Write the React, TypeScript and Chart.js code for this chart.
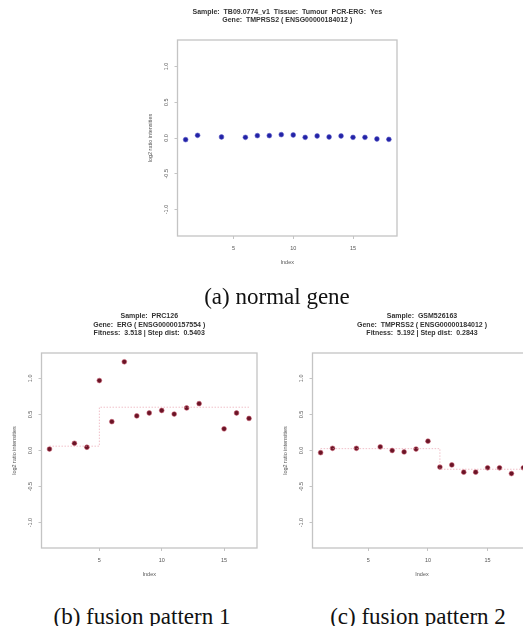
import React, { useEffect, useRef } from "react";
import { Chart, registerables } from "chart.js";

Chart.register(...registerables);

// ---------- data ----------
const X_TICKS = [5, 10, 15];
const Y_TICKS = [-1, -0.5, 0, 0.5, 1];
const Y_TICK_LABELS = ["-1.0", "-0.5", "0.0", "0.5", "1.0"];

const A_TITLE = ["Sample:  TB09.0774_v1  Tissue:  Tumour  PCR-ERG:  Yes", "Gene:  TMPRSS2 ( ENSG00000184012 )"];
const A_INDEX = [1, 2, 4, 6, 7, 8, 9, 10, 11, 12, 13, 14, 15, 16, 17, 18];
const A_VALUES = [-0.023, 0.037, 0.014, 0.009, 0.033, 0.033, 0.047, 0.042, 0.009, 0.028, 0.014, 0.028, 0.009, 0.009, -0.014, -0.019];

const B_TITLE = ["Sample:  PRC126", "Gene:  ERG ( ENSG00000157554 )", "Fitness:  3.518 | Step dist:  0.5403"];
const B_INDEX = [1, 3, 4, 5, 6, 7, 8, 9, 10, 11, 12, 13, 15, 16, 17];
const B_VALUES = [0.02, 0.1, 0.045, 0.97, 0.4, 1.23, 0.48, 0.52, 0.555, 0.505, 0.59, 0.65, 0.3, 0.52, 0.445];
const B_STEP_X = [1, 5, 5, 17];
const B_STEP_Y = [0.06, 0.06, 0.6, 0.6];

const C_TITLE = ["Sample:  GSM526163", "Gene:  TMPRSS2 ( ENSG00000184012 )", "Fitness:  5.192 | Step dist:  0.2843"];
const C_INDEX = [1, 2, 4, 6, 7, 8, 9, 10, 11, 12, 13, 14, 15, 16, 17, 18];
const C_VALUES = [-0.03, 0.03, 0.03, 0.05, 0.0, -0.02, 0.02, 0.13, -0.23, -0.2, -0.3, -0.3, -0.24, -0.24, -0.32, -0.24];
const C_STEP_X = [1, 11, 11, 18];
const C_STEP_Y = [0.026, 0.026, -0.26, -0.26];

const X_TITLE = "Index";
const Y_TITLE = "log2 ratio intensities";

// ---------- styles ----------
const BOX = "#c4c4c4";
const TEXT = "#555555";
const TITLE_COL = "#333333";
const SANS = '"Liberation Sans", Arial, sans-serif';

const rPlot = {
  id: "rPlot",
  afterDraw(chart: any, _args: any, opts: any) {
    const { ctx, chartArea: a, scales } = chart;
    const y = scales.y;
    ctx.save();
    ctx.strokeStyle = BOX;
    ctx.lineWidth = 1.3;
    ctx.strokeRect(a.left, a.top, a.right - a.left, a.bottom - a.top);

    ctx.fillStyle = TEXT;
    ctx.font = `5.5px ${SANS}`;
    ctx.textAlign = "center";
    ctx.textBaseline = "middle";
    Y_TICKS.forEach((v, i) => {
      const py = y.getPixelForValue(v);
      ctx.save();
      ctx.translate(a.left - 10.8, py);
      ctx.rotate(-Math.PI / 2);
      ctx.fillText(Y_TICK_LABELS[i], 0, 0);
      ctx.restore();
    });
    ctx.save();
    ctx.translate(a.left - 26.7, (a.top + a.bottom) / 2);
    ctx.rotate(-Math.PI / 2);
    ctx.fillText(Y_TITLE, 0, 0);
    ctx.restore();
    ctx.fillText(X_TITLE, (a.left + a.right) / 2, a.bottom + 26.2);

    ctx.fillStyle = TITLE_COL;
    ctx.font = `bold 7px ${SANS}`;
    const lines: string[] = opts.title;
    const cx = opts.titleX ?? (a.left + a.right) / 2;
    lines.forEach((t, i) => {
      const yy = a.top - 20 - (lines.length - 1 - i) * 8.6 + 0.5;
      ctx.fillText(t, cx, yy);
    });
    ctx.restore();
  },
};

type PanelProps = {
  L: number; T: number; W: number; H: number;
  areaLeft: number; areaRight: number; areaTop: number; areaBottom: number;
  xMin: number; xMax: number; yMin: number; yMax: number;
  index: number[]; values: number[];
  stepX?: number[]; stepY?: number[];
  pointFill: string; pointBorder: string; stepColor?: string;
  title: string[]; titleX?: number;
};

function Panel(p: PanelProps) {
  const ref = useRef<HTMLCanvasElement>(null);
  useEffect(() => {
    if (!ref.current) return;
    const datasets: any[] = [];
    if (p.stepX && p.stepY) {
      datasets.push({
        data: p.stepX.map((x, i) => ({ x, y: p.stepY![i] })),
        showLine: true,
        borderColor: p.stepColor,
        borderWidth: 1,
        borderDash: [1.5, 1.5],
        pointRadius: 0,
        fill: false,
      });
    }
    datasets.push({
      data: p.index.map((x, i) => ({ x, y: p.values[i] })),
      backgroundColor: p.pointFill,
      borderColor: p.pointBorder,
      borderWidth: 1,
      pointRadius: 2.4,
      showLine: false,
    });
    const chart = new Chart(ref.current, {
      type: "scatter",
      data: { datasets },
      plugins: [rPlot as any],
      options: {
        animation: false,
        responsive: false,
        devicePixelRatio: 1,
        layout: { padding: { left: 0, right: p.L + p.W - p.areaRight, top: p.areaTop - p.T, bottom: 0 } },
        plugins: {
          legend: { display: false },
          tooltip: { enabled: false },
          rPlot: { title: p.title, titleX: p.titleX !== undefined ? p.titleX - p.L : undefined },
        } as any,
        scales: {
          x: {
            type: "linear",
            min: p.xMin,
            max: p.xMax,
            afterBuildTicks: (s: any) => { s.ticks = X_TICKS.map((v) => ({ value: v })); },
            afterFit: (s: any) => { s.height = p.T + p.H - p.areaBottom; },
            grid: { drawOnChartArea: false, drawTicks: true, tickLength: 3, color: BOX, lineWidth: 1 },
            border: { display: false },
            ticks: { color: TEXT, font: { size: 5.5, family: SANS }, padding: 6, maxRotation: 0, autoSkip: false },
          },
          y: {
            type: "linear",
            min: p.yMin,
            max: p.yMax,
            afterBuildTicks: (s: any) => { s.ticks = Y_TICKS.map((v) => ({ value: v })); },
            afterFit: (s: any) => { s.width = p.areaLeft - p.L; },
            grid: { drawOnChartArea: false, drawTicks: true, tickLength: 3, color: BOX, lineWidth: 1 },
            border: { display: false },
            ticks: { display: false },
          },
        },
      } as any,
    });
    return () => chart.destroy();
  }, []);
  return (
    <canvas
      ref={ref}
      width={p.W}
      height={p.H}
      style={{ position: "absolute", left: p.L, top: p.T, width: p.W, height: p.H }}
    />
  );
}

const capStyle = (cx: number, cy: number): React.CSSProperties => ({
  position: "absolute",
  left: cx - 150,
  width: 300,
  top: cy - 14,
  height: 28,
  lineHeight: "28px",
  textAlign: "center",
  fontFamily: '"Liberation Serif", "Times New Roman", serif',
  fontSize: 23,
  color: "#111",
  whiteSpace: "nowrap",
});

export default function App() {
  return (
    <div style={{ position: "absolute", left: 0, top: 0, width: 523, height: 626, overflow: "hidden", background: "#fff" }}>
      <Panel
        L={100} T={0} W={320} H={285}
        areaLeft={177.5} areaRight={397} areaTop={40} areaBottom={236}
        xMin={0.32} xMax={18.68} yMin={-1.37} yMax={1.37}
        index={A_INDEX} values={A_VALUES}
        pointFill="#2323a6" pointBorder="rgba(90,90,200,0.55)"
        title={A_TITLE}
      />
      <Panel
        L={0} T={300} W={262} H={290}
        areaLeft={41.5} areaRight={261} areaTop={353} areaBottom={548}
        xMin={0.36} xMax={17.64} yMin={-1.352} yMax={1.352}
        index={B_INDEX} values={B_VALUES}
        stepX={B_STEP_X} stepY={B_STEP_Y} stepColor="rgba(230,150,165,0.6)"
        pointFill="#6a1426" pointBorder="rgba(200,90,110,0.55)"
        title={B_TITLE}
      />
      <Panel
        L={262} T={300} W={280} H={290}
        areaLeft={312.5} areaRight={531.5} areaTop={353} areaBottom={548}
        xMin={0.32} xMax={18.68} yMin={-1.352} yMax={1.352}
        index={C_INDEX} values={C_VALUES}
        stepX={C_STEP_X} stepY={C_STEP_Y} stepColor="rgba(230,150,165,0.6)"
        pointFill="#6a1426" pointBorder="rgba(200,90,110,0.55)"
        title={C_TITLE}
      />
      <div style={capStyle(277, 297)}>(a) normal gene</div>
      <div style={capStyle(142, 617)}>(b) fusion pattern 1</div>
      <div style={capStyle(418, 617)}>(c) fusion pattern 2</div>
    </div>
  );
}
